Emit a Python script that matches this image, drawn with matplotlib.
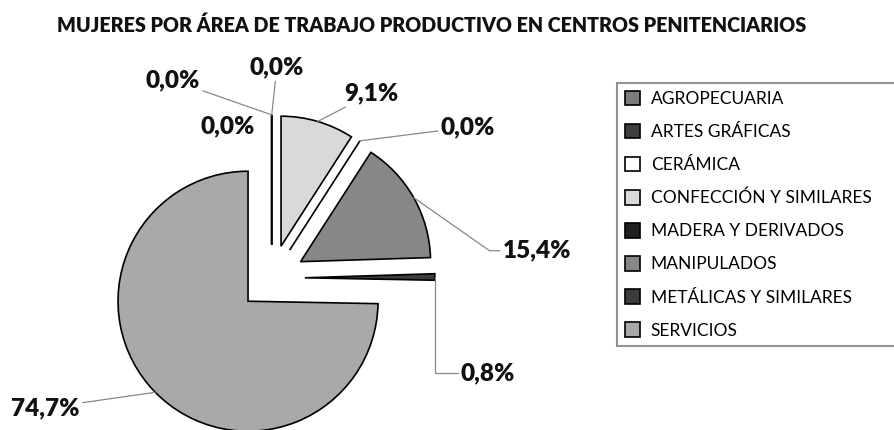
import matplotlib
matplotlib.use("Agg")
import numpy as np
import matplotlib.pyplot as plt

plt.rcParams["font.family"] = ["Lato", "DejaVu Sans"]

categories = ["AGROPECUARIA", "ARTES GRÁFICAS", "CERÁMICA", "CONFECCIÓN Y SIMILARES",
              "MADERA Y DERIVADOS", "MANIPULADOS", "METÁLICAS Y SIMILARES", "SERVICIOS"]
values = [0.0, 0.0, 0.0, 9.1, 0.0, 15.4, 0.8, 74.7]
pct_labels = ["0,0%", "0,0%", "0,0%", "9,1%", "0,0%", "15,4%", "0,8%", "74,7%"]
colors = ["#7c7c7c", "#3e3e3e", "#ffffff", "#d9d9d9", "#202020", "#878787", "#3c3c3c", "#a9a9a9"]

# where each percentage sits (data units, radius = 1) and how its leader line runs
label_pos = [(-0.76, 1.52), (0.04, 1.62), (-0.34, 1.17), (0.77, 1.42),
             (1.51, 1.16), (2.04, 0.21), (1.66, -0.73), (-1.74, -1.0)]
leader = ["arc3", "arc3", None, "arc3", "arc3",
          "angle,angleA=0,angleB=-35,rad=0", "angle,angleA=0,angleB=90,rad=0", "arc3"]

fig = plt.figure(figsize=(8.95, 4.30), dpi=100)
ax = fig.add_axes([0, 0, 1, 1])

wedges, _ = ax.pie(values, explode=[0.255] * len(values), startangle=90, counterclock=False,
                   colors=colors, radius=1.0,
                   wedgeprops=dict(edgecolor="black", linewidth=1.2))

ax.set_aspect("auto")
ax.set_xlim(-271.7 / 130, (895 - 271.7) / 130)
ax.set_ylim(-(430 - 278) / 130, 278 / 130)
ax.axis("off")

for w, txt, pos, conn in zip(wedges, pct_labels, label_pos, leader):
    mid = np.deg2rad((w.theta1 + w.theta2) / 2)
    cx, cy = w.center
    tip = (cx + w.r * np.cos(mid), cy + w.r * np.sin(mid))
    if conn is None:
        ax.text(pos[0], pos[1], txt, ha="center", va="center",
                fontsize=17.5, fontweight="heavy", color="#111111")
        continue
    rel = (0, 0.5) if conn.startswith("angle") else (0.5, 0.5)
    ax.annotate(txt, xy=tip, xytext=pos, ha="center", va="center",
                fontsize=17.5, fontweight="heavy", color="#111111",
                arrowprops=dict(arrowstyle="-", color="#888888", lw=0.9,
                                connectionstyle=conn, relpos=rel,
                                shrinkA=0, shrinkB=0))

fig.text(431.5 / 895, 1 - 25 / 430,
         "MUJERES POR ÁREA DE TRABAJO PRODUCTIVO EN CENTROS PENITENCIARIOS",
         ha="center", va="center", fontsize=14.2, fontweight="heavy", color="#111111")

leg = fig.legend(wedges, categories, loc="upper left",
                 bbox_to_anchor=(617 / 895, 0, 0.4, 1 - 83 / 430), mode="expand",
                 borderaxespad=0, fontsize=12.5, frameon=True, fancybox=False,
                 handlelength=0.9, handleheight=0.9, handletextpad=0.6,
                 labelspacing=0.97, borderpad=0.45)
leg.get_frame().set_edgecolor("#777777")
leg.get_frame().set_linewidth(1.5)

fig.savefig("out.png", dpi=100)
